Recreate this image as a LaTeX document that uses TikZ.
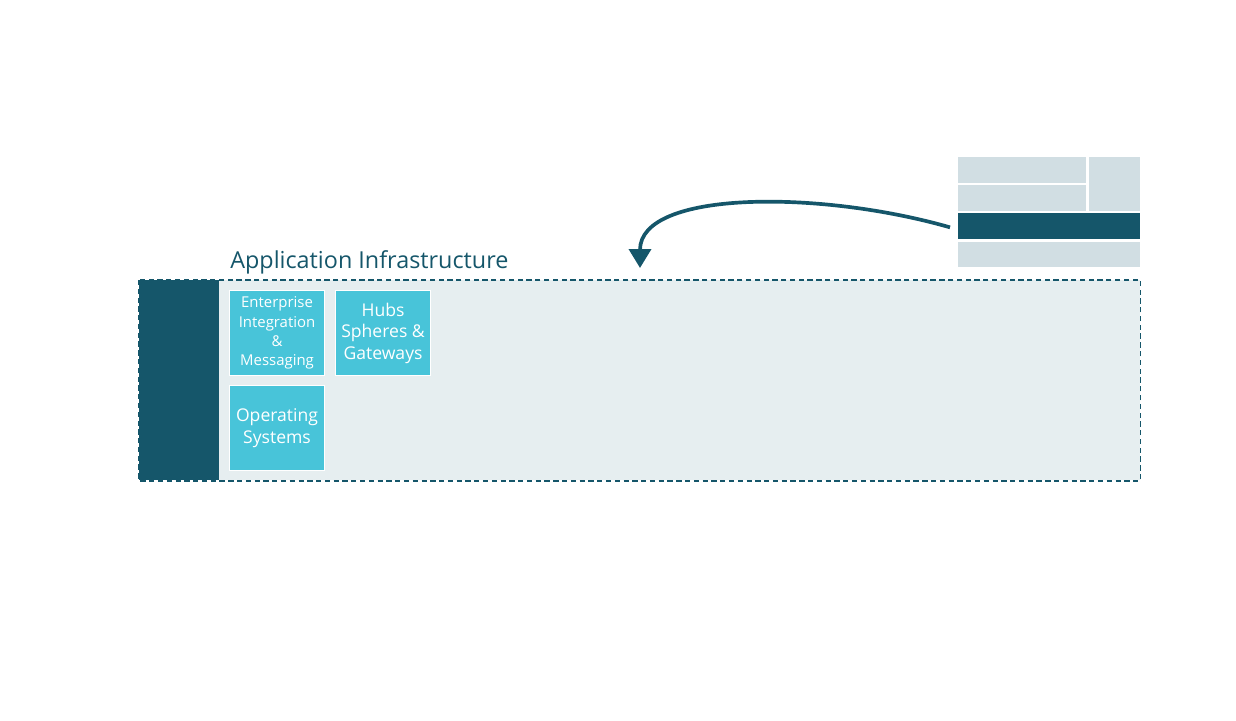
\documentclass[tikz,border=0pt]{standalone}
\usepackage{fontspec}
\setmainfont{Open Sans}
\usetikzlibrary{positioning, arrows.meta}
\definecolor{infdark}{HTML}{15566A}
\definecolor{infcyan}{HTML}{48C4D9}
\definecolor{infbg}{HTML}{E6EEF0}
\definecolor{infgrey}{HTML}{D1DEE3}

\tikzset{
  tile/.style={fill=infcyan, draw=white, line width=0.6pt, anchor=north west, text=white,
    align=center, inner sep=1pt, minimum width=1.9cm, minimum height=1.7cm},
  stackpart/.style={fill=infgrey, anchor=north west, inner sep=0pt}
}

\begin{document}
\begin{tikzpicture}[x=0.02cm, y=-0.02cm, font=\sffamily]
        \useasboundingbox (0,0) rectangle (1236,720);
        % container
        \node[fill=infbg, anchor=north west, minimum width=20.02cm, minimum height=4cm, inner sep=0pt] (infra) at (139,280) {};
        \node[fill=infdark, anchor=north west, minimum width=1.6cm, minimum height=4cm, inner sep=0pt] (side) at (139,280) {};
        \draw[infdark, line width=1.1pt, dash pattern=on 3pt off 2pt] (infra.north west) rectangle (infra.south east);
        \node[anchor=base west, text=infdark, font=\fontsize{13.3}{16}\selectfont, inner sep=0pt] (title) at (230,268) {Application Infrastructure};
        % tiles
        \node[tile, font=\fontsize{8.5}{11}\selectfont] (eim) at (229,290) {Enterprise\\Integration\\\&\\Messaging};
        \node[tile, font=\fontsize{10}{12.2}\selectfont] (hubs) at (335,290) {Hubs\\Spheres \&\\Gateways};
        \node[tile, font=\fontsize{10}{12.2}\selectfont] (os) at (229,385) {Operating\\Systems};
        % stack
        \node[stackpart, minimum width=2.56cm, minimum height=0.52cm] (s1) at (958,157) {};
        \node[stackpart, minimum width=2.56cm, minimum height=0.52cm] (s2) at (958,185) {};
        \node[stackpart, minimum width=1.02cm, minimum height=1.08cm] (s3) at (1089,157) {};
        \node[stackpart, fill=infdark, minimum width=3.64cm, minimum height=0.52cm] (bar) at (958,213) {};
        \node[stackpart, minimum width=3.64cm, minimum height=0.5cm] (s4) at (958,242) {};
        % arrow
        \coordinate (drop) at (640,268);
        \draw[infdark, line width=2.1pt, -{Triangle[width=0.44cm, length=0.38cm]}] ([yshift=-0.02cm]bar.west) ++(-8,0) .. controls (820,190) and (640,190) .. (drop);
      \end{tikzpicture}
\end{document}
